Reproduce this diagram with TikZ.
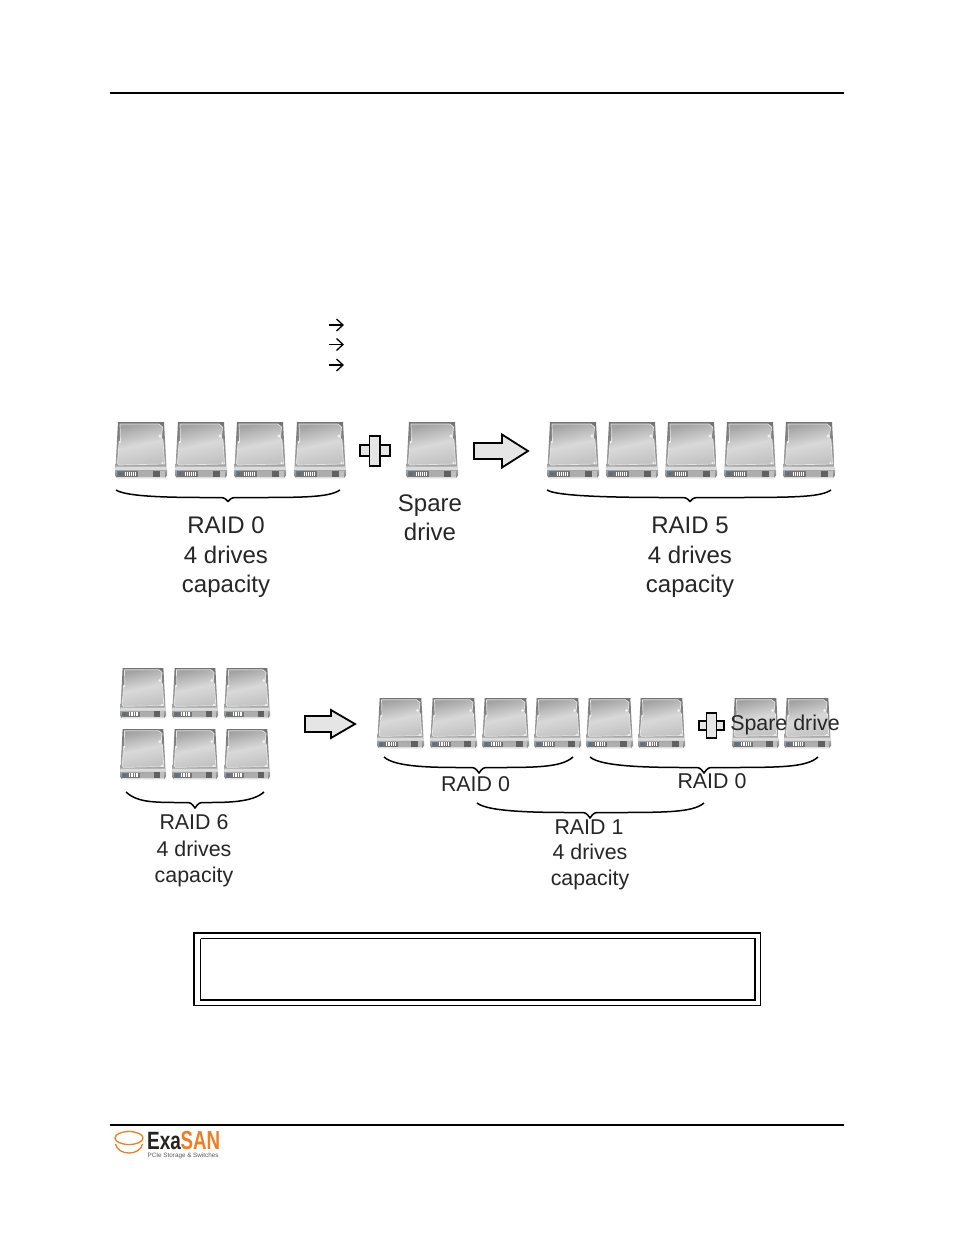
\documentclass[tikz,border=0pt]{standalone}
\usepackage{fontspec}
\setmainfont{Liberation Sans}
\definecolor{exaorange}{RGB}{240,125,30}
\definecolor{exadark}{RGB}{40,35,35}
\tikzset{
  x=1pt,y=-1pt,
  biglabel/.style={inner sep=0,anchor=base,font=\fontsize{24}{24}\selectfont,text=black!85},
  smalllabel/.style={inner sep=0,anchor=base,font=\fontsize{21.4}{21.4}\selectfont,text=black!85},
  rule/.style={line width=2pt,black},
  bracecurve/.style={line width=1.5pt,black,line join=round},
  blockarrow/.style={draw=black,line width=1.8pt,fill=black!10,line join=miter},
  listarrow/.style={line width=1.3pt,black},
  pics/hdd/.style={code={
    % outer casing
    \shade[top color=black!55,bottom color=black!35]
      (3,0) -- (49,0) -- (51.5,46) -- (.5,46) -- cycle;
    % platter cover
    \shade[bottom color=black!24,top color=black!36,middle color=black!15,shading angle=12]
      (5,2) -- (44,2) -- (47.5,5) -- (46.5,16) -- (48,18) -- (49.5,42) -- (4,43) -- (2.5,41) -- (4,21) -- (5.5,19) -- cycle;
    \draw[black!10,line width=.7pt,line join=round]
      (5,2) -- (44,2) -- (47.5,5) -- (46.5,16) -- (48,18) -- (49.5,42) -- (4,43) -- (2.5,41) -- (4,21) -- (5.5,19) -- cycle;
    \fill[black!5] (45,14) circle (1.7) (4.8,20) circle (1.3) (47.5,41) circle (1.1);
    % front panel
    \fill[black!14] (.5,44.5) -- (51.5,44.5) -- (52,48) -- (0,48) -- cycle;
    \shade[top color=black!35,bottom color=black!50] (0,48) -- (52,48) -- (52,53.5) -- (50,56) -- (2,56) -- (0,53.5) -- cycle;
    \fill[black!62] (38,48.5) rectangle (45,54.5);
    \fill[black!25] (45,48.5) rectangle (50,54.5);
    \fill[black!55] (2,49) rectangle (23,54.5);
    \fill[black!32] (23,49) rectangle (38,54.5);
    \fill[cyan!60!blue!70!black] (5,51.8) circle (1.5);
    \foreach \k in {0,...,5}{\fill[white] (10+\k*1.9,49.5) rectangle (11+\k*1.9,54);}
    \fill[black!12] (2,55.2) rectangle (50,55.8);
  }},
}
\newcommand{\hddat}[4]{\pic[xscale=#3/52,yscale=#4/56] at (#1,#2) {hdd};}
\newcommand{\curlybrace}[6]{% x1 xtip x2 ytop ymid ytip
  \draw[bracecurve] (#1,#4) .. controls (#1+12,#5+1) and (#2-40,#5+.5) .. (#2-7,#5+.5)
    .. controls (#2-3,#5+.5) and (#2-1,#6-1) .. (#2,#6)
    .. controls (#2+1,#6-1) and (#2+3,#5+.5) .. (#2+7,#5+.5)
    .. controls (#3-40,#5+.5) and (#3-12,#5+1) .. (#3,#4);}
\newcommand{\listarrowat}[1]{%
  \draw[listarrow] (329,#1) -- (343,#1);
  \draw[listarrow] (336.5,#1-6) -- (343,#1) -- (336.5,#1+6);}
\begin{document}
\begin{tikzpicture}
\useasboundingbox (0,0) rectangle (954,1235);
\fill[white] (0,0) rectangle (954,1235);
% rules
\draw[rule] (110,93) -- (844,93);
\draw[rule] (110,1125) -- (844,1125);
% list arrows
\listarrowat{325}
\listarrowat{344.5}
\listarrowat{365}
% row one
\foreach \x in {115,175,234,294,406,547,606,665,724,783}{\hddat{\x}{422}{52}{56}}
\curlybrace{116}{228}{340}{490}{497}{501.5}
\curlybrace{547}{690}{831}{490}{497}{501.5}
\draw[blockarrow] (360,445) rectangle (390,456);
\draw[blockarrow] (369.5,436) rectangle (380,466);
\draw[blockarrow] (474,443) -- (502,443) -- (502,434.5) -- (528,451) -- (502,467.5) -- (502,459) -- (474,459) -- cycle;
\node[biglabel] (r0a) at (226,533.5) {RAID 0};
\node[biglabel] (r0b) at (226,563) {4 drives};
\node[biglabel] (r0c) at (226,592) {capacity};
\node[biglabel] (spa) at (430,511) {Spare};
\node[biglabel] (spb) at (430,540.5) {drive};
\node[biglabel] (r5a) at (690,533.5) {RAID 5};
\node[biglabel] (r5b) at (690,563) {4 drives};
\node[biglabel] (r5c) at (690,592) {capacity};
% row two
\foreach \x in {120,172,224}{\hddat{\x}{668}{46}{50}\hddat{\x}{729}{46}{50}}
\foreach \x in {377,430,482,534,586,638,732,784}{\hddat{\x}{698}{47}{50}}
\curlybrace{126}{195}{264}{792}{802}{808}
\curlybrace{384}{479}{573}{757}{767}{773}
\curlybrace{590}{704}{818}{757}{767}{773}
\curlybrace{477}{590}{704}{803}{812}{818}
\draw[blockarrow] (305,716) -- (331,716) -- (331,710) -- (355,724) -- (331,738) -- (331,732) -- (305,732) -- cycle;
\draw[blockarrow] (699,721) rectangle (724,730);
\draw[blockarrow] (706.5,713) rectangle (716.5,738);
\node[smalllabel] (r6a) at (194,829.5) {RAID 6};
\node[smalllabel] (r6b) at (194,856.5) {4 drives};
\node[smalllabel] (r6c) at (194,882) {capacity};
\node[smalllabel] (r0d) at (475.5,791) {RAID 0};
\node[smalllabel] (r0e) at (712,788.5) {RAID 0};
\node[smalllabel] (r1a) at (589,834.5) {RAID 1};
\node[smalllabel] (r1b) at (590,859.5) {4 drives};
\node[smalllabel] (r1c) at (590,885) {capacity};
\node[smalllabel] (sd) at (785,730.5) {Spare drive};
% note box
\draw[line width=1.7pt] (194,933) rectangle (760.5,1005.5);
\draw[line width=1.1pt] (200.5,938.5) -- (200.5,1000) (200.5,938.5) -- (754,938.5);
\draw[line width=2pt] (200,1000) -- (754.5,1000) -- (754.5,938);
% logo
\draw[exaorange,line width=1.3pt] (129,1138) ellipse (14 and 6.5);
\draw[exaorange,line width=1.3pt] (115.5,1144) .. controls (118,1156) and (140,1156) .. (142.5,1144);
\node[inner sep=0,anchor=base west,xscale=.76,font=\bfseries\fontsize{25}{25}\selectfont,text=exadark] (logoa) at (147,1149) {Exa};
\node[inner sep=0,anchor=base west,xscale=.72,font=\bfseries\fontsize{26}{26}\selectfont,text=exaorange] (logob) at (180.5,1149) {SAN};
\node[inner sep=0,anchor=base west,font=\fontsize{6.3}{6.3}\selectfont,text=black!65] (logoc) at (147.5,1157) {PCIe Storage \& Switches};
\end{tikzpicture}
\end{document}
